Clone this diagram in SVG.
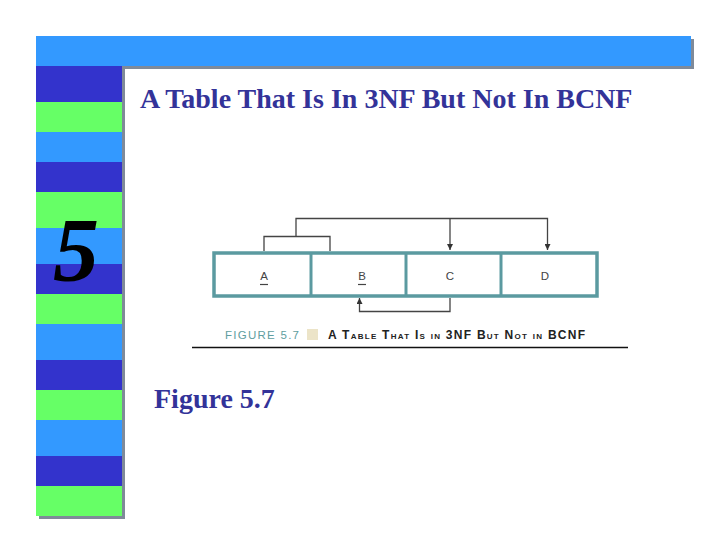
<svg xmlns="http://www.w3.org/2000/svg" width="720" height="540" viewBox="0 0 720 540">
<defs>
<style>
.lb{fill:#3399ff}.db{fill:#3333cc}.gr{fill:#66ff66}.sh{fill:#7f8a99}
.title{font-family:"Liberation Serif","Times New Roman",serif;font-weight:bold;fill:#333399}
.cell{fill:#ffffff;stroke:#5b9aa0;stroke-width:3.5}
.div{stroke:#5b9aa0;stroke-width:3}
.lbl{font-family:"Liberation Sans",Arial,sans-serif;font-size:11.5px;fill:#444;text-anchor:middle}
.conn{fill:none;stroke:#444;stroke-width:1.3}
</style>
<marker id="ah" viewBox="0 0 10 10" refX="10" refY="5" markerWidth="6" markerHeight="6" orient="auto" markerUnits="userSpaceOnUse">
<path d="M0,0 L10,5 L0,10 z" fill="#333"/>
</marker>
</defs>
<rect width="720" height="540" fill="#ffffff"/>
<g id="frame">
<rect class="sh" x="39" y="39" width="655" height="30"/>
<rect class="lb" x="36" y="36" width="655" height="30"/>
<rect class="sh" x="39" y="66" width="86" height="453"/>
<rect class="db" x="36" y="66" width="86" height="36"/>
<rect class="gr" x="36" y="102" width="86" height="30"/>
<rect class="lb" x="36" y="132" width="86" height="30"/>
<rect class="db" x="36" y="162" width="86" height="30"/>
<rect class="gr" x="36" y="192" width="86" height="36"/>
<rect class="lb" x="36" y="228" width="86" height="36"/>
<rect class="db" x="36" y="264" width="86" height="30"/>
<rect class="gr" x="36" y="294" width="86" height="30"/>
<rect class="lb" x="36" y="324" width="86" height="36"/>
<rect class="db" x="36" y="360" width="86" height="30"/>
<rect class="gr" x="36" y="390" width="86" height="30"/>
<rect class="lb" x="36" y="420" width="86" height="36"/>
<rect class="db" x="36" y="456" width="86" height="30"/>
<rect class="gr" x="36" y="486" width="86" height="30"/>
<text x="53" y="281" font-family="'Liberation Serif','Times New Roman',serif" font-weight="bold" font-style="italic" font-size="92" fill="#000">5</text>
</g>
<text id="title" class="title" x="140" y="108" font-size="28">A Table That Is In 3NF But Not In BCNF</text>
<text id="figlabel" class="title" x="154" y="408" font-size="28">Figure 5.7</text>
<g id="table">
<rect class="cell" x="214" y="253" width="383" height="43"/>
<line class="div" x1="311" y1="253" x2="311" y2="296"/>
<line class="div" x1="406" y1="253" x2="406" y2="296"/>
<line class="div" x1="501" y1="253" x2="501" y2="296"/>
</g>
<g id="A"><text class="lbl" x="264" y="280">A</text><line x1="260" y1="284.5" x2="268" y2="284.5" stroke="#444" stroke-width="1.2"/></g>
<g id="B"><text class="lbl" x="362" y="280">B</text><line x1="358" y1="284.5" x2="366" y2="284.5" stroke="#444" stroke-width="1.2"/></g>
<g id="C"><text class="lbl" x="450" y="280">C</text></g>
<g id="D"><text class="lbl" x="545" y="280">D</text></g>
<g id="connectors">
<path class="conn" d="M264,251 V236.5 H330 V251"/>
<path class="conn" d="M296,236.5 V218.5 H547.5 V250" marker-end="url(#ah)"/>
<path class="conn" d="M450,218.5 V250" marker-end="url(#ah)"/>
<path class="conn" d="M450,298 V311.5 H359.5 V298" marker-end="url(#ah)"/>
</g>
<g id="caption">
<text x="225" y="339" font-family="'Liberation Sans',Arial,sans-serif" font-size="11.5" fill="#5f9ea0" textLength="74" lengthAdjust="spacing">FIGURE 5.7</text>
<rect x="307" y="329" width="11" height="11" fill="#ece4c8"/>
<text x="328" y="339" font-family="'Liberation Sans',Arial,sans-serif" font-weight="bold" font-size="12" fill="#222" font-variant="small-caps" textLength="257" lengthAdjust="spacing">A Table That Is in 3NF But Not in BCNF</text>
<line x1="192" y1="347.5" x2="628" y2="347.5" stroke="#111" stroke-width="1.6"/>
</g>
</svg>
